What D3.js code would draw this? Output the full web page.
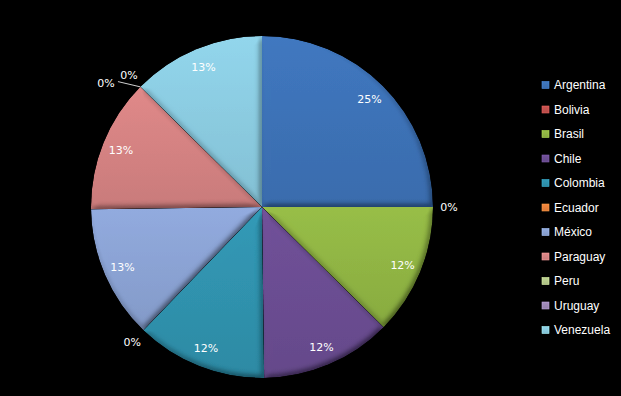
<!DOCTYPE html>
<head>
<meta charset="utf-8">
<style>
body, html {
  margin: 0;
  background: #000;
}
.label {
  font-family: "DejaVu Sans", Verdana, sans-serif;
  font-size: 11px;
  fill: #fff;
}
.legend text {
  font-family: "Liberation Sans", Arial, sans-serif;
  font-size: 12px;
  fill: #fff;
}
</style>
<script src="https://cdn.jsdelivr.net/npm/d3@7"></script>
</head>
<body>
<script>

// data
var countries = ["Argentina", "Bolivia", "Brasil", "Chile", "Colombia", "Ecuador",
                 "México", "Paraguay", "Peru", "Uruguay", "Venezuela"];
var shares = [25, 0, 12.4, 12.4, 12.4, 0, 12.6, 12.6, 0, 0, 12.6];
var colors = ["#3d72b6", "#c0504d", "#90b443", "#6b4d92", "#2f92ad", "#e8803a",
              "#8aa2d3", "#d48282", "#b5c98a", "#9c87b5", "#8acbe0"];

var width = 621,
    height = 396,
    cx = 262,
    cy = 207,
    radius = 171;

var svg = d3.select("body").append("svg")
    .attr("width", width)
    .attr("height", height)
    .style("display", "block")
    .style("background", "#000");

var defs = svg.append("defs");

// bevel-ish shading, lit from the top left
var bevel = defs.append("filter")
    .attr("id", "bevel")
    .attr("x", "-10%").attr("y", "-10%")
    .attr("width", "120%").attr("height", "120%");
bevel.append("feGaussianBlur")
    .attr("in", "SourceAlpha")
    .attr("stdDeviation", 3)
    .attr("result", "blur");
var light = bevel.append("feDiffuseLighting")
    .attr("in", "blur")
    .attr("surfaceScale", 4)
    .attr("diffuseConstant", 1.15)
    .attr("lighting-color", "#fff")
    .attr("result", "lit");
light.append("feDistantLight")
    .attr("azimuth", 235)
    .attr("elevation", 60);
bevel.append("feComposite")
    .attr("in", "SourceGraphic")
    .attr("in2", "lit")
    .attr("operator", "arithmetic")
    .attr("k1", 1).attr("k2", 0).attr("k3", 0).attr("k4", 0)
    .attr("result", "shaded");
bevel.append("feComposite")
    .attr("in", "shaded")
    .attr("in2", "SourceAlpha")
    .attr("operator", "in");

colors.forEach(function(c, i) {
  var g = defs.append("linearGradient")
      .attr("id", "grad" + i)
      .attr("x1", 0).attr("y1", 0)
      .attr("x2", 0).attr("y2", 1);
  g.append("stop").attr("offset", "0%").attr("stop-color", d3.color(c).brighter(0.15));
  g.append("stop").attr("offset", "100%").attr("stop-color", d3.color(c).darker(0.15));
});

var pie = d3.pie().sort(null).value(function(d) { return d; });
var arcs = pie(shares);

var arc = d3.arc().innerRadius(0).outerRadius(radius);

var chart = svg.append("g")
    .attr("transform", "translate(" + cx + "," + cy + ")");

chart.selectAll("path.slice")
  .data(arcs)
  .enter().append("path")
    .attr("class", "slice")
    .filter(function(d) { return d.value > 0; })
    .attr("d", arc)
    .attr("fill", function(d) { return "url(#grad" + d.index + ")"; })
    .attr("filter", "url(#bevel)");

// percentage labels
function pct(v) { return Math.round(v) + "%"; }

var used = {};
arcs.forEach(function(d) {
  var a = (d.startAngle + d.endAngle) / 2;
  var r = d.value > 0 ? 152 : radius + 16;
  var x = Math.sin(a) * r,
      y = -Math.cos(a) * r;
  var key = a.toFixed(3);
  if (d.value === 0 && used[key]) {
    // second label at the same spot: push it aside with a leader line
    var ex = Math.sin(a) * radius,
        ey = -Math.cos(a) * radius;
    x = used[key][0] - 23;
    y = used[key][1] + 8;
    chart.append("line")
      .attr("x1", x + 12).attr("y1", y - 2)
      .attr("x2", ex).attr("y2", ey)
      .attr("stroke", "#cfcfcf")
      .attr("stroke-width", 1);
  }
  if (d.value === 0) used[key] = [x, y];
  chart.append("text")
    .attr("class", "label")
    .attr("x", x)
    .attr("y", y)
    .attr("dy", "0.35em")
    .attr("text-anchor", "middle")
    .text(pct(d.value));
});

// legend
var legendY = d3.scalePoint()
    .domain(countries)
    .range([85, 330]);

var legend = svg.append("g").attr("class", "legend");
var item = legend.selectAll("g")
  .data(countries)
  .enter().append("g")
    .attr("transform", function(d) { return "translate(542," + legendY(d) + ")"; });

item.append("rect")
    .attr("x", 0).attr("y", -3.5)
    .attr("width", 7).attr("height", 7)
    .attr("fill", function(d, i) { return "url(#grad" + i + ")"; })
    .attr("stroke", function(d, i) { return d3.color(colors[i]).brighter(0.6); })
    .attr("stroke-width", 0.6);

item.append("text")
    .attr("x", 12)
    .attr("dy", "0.36em")
    .text(function(d) { return d; });

</script>
</body>
</html>
